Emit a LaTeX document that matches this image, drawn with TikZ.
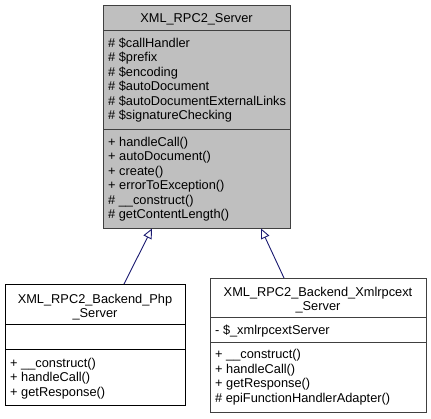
\documentclass[tikz,border=0pt]{standalone}
\usepackage{fontspec}
\setmainfont{Liberation Sans}
\usetikzlibrary{arrows.meta}
\definecolor{edgeblue}{HTML}{191970}
\definecolor{topfill}{HTML}{BFBFBF}
\definecolor{framegray}{HTML}{404040}
\begin{document}
\begin{tikzpicture}[x=1pt,y=-1pt,
  every node/.style={font=\fontsize{12.8}{15}\selectfont},
  classbox/.style={draw=framegray,line width=1pt,rectangle,inner sep=0pt,anchor=north west},
  divider/.style={draw=framegray,line width=1pt},
  member/.style={anchor=base west,inner sep=0pt},
  title/.style={anchor=base,inner sep=0pt},
  inherit/.style={draw=edgeblue,line width=0.9pt,-{Triangle[open,fill=white,length=10pt,width=9pt]}}]
\useasboundingbox (0,0) rectangle (431,419);
% top class
\node[classbox,fill=topfill,minimum width=187pt,minimum height=223pt] (server) at (103,5) {};
\draw[divider] (103,31) -- (290,31);
\draw[divider] (103,130) -- (290,130);
\node[title] (st) at (196.5,22.5) {XML\_RPC2\_Server};
\node[member] (s1) at (108,47.5) {\# \$callHandler};
\node[member] (s2) at (108,62) {\# \$prefix};
\node[member] (s3) at (108,76.5) {\# \$encoding};
\node[member] (s4) at (108,91) {\# \$autoDocument};
\node[member] (s5) at (108,105.5) {\# \$autoDocumentExternalLinks};
\node[member] (s6) at (108,120) {\# \$signatureChecking};
\node[member] (m1) at (108,146.5) {+ handleCall()};
\node[member] (m2) at (108,161) {+ autoDocument()};
\node[member] (m3) at (108,175.5) {+ create()};
\node[member] (m4) at (108,190) {+ errorToException()};
\node[member] (m5) at (108,204.5) {\# \_\_construct()};
\node[member] (m6) at (108,219) {\# getContentLength()};
% left class
\node[classbox,draw=black,fill=white,minimum width=180pt,minimum height=121pt] (php) at (5,284) {};
\draw[divider,draw=black] (5,325) -- (185,325);
\draw[divider,draw=black] (5,350) -- (185,350);
\node[title] (pt1) at (95,303.5) {XML\_RPC2\_Backend\_Php};
\node[title] (pt2) at (95,318) {\_Server};
\node[member] (p1) at (10,368) {+ \_\_construct()};
\node[member] (p2) at (10,382) {+ handleCall()};
\node[member] (p3) at (10,396) {+ getResponse()};
% right class
\node[classbox,fill=white,minimum width=216pt,minimum height=134pt] (xr) at (210,278) {};
\draw[divider] (210,318) -- (426,318);
\draw[divider] (210,343) -- (426,343);
\node[title] (xt1) at (318,296.5) {XML\_RPC2\_Backend\_Xmlrpcext};
\node[title] (xt2) at (318,311) {\_Server};
\node[member] (x0) at (215,334.5) {- \$\_xmlrpcextServer};
\node[member] (x1) at (215,359) {+ \_\_construct()};
\node[member] (x2) at (215,373.5) {+ handleCall()};
\node[member] (x3) at (215,388) {+ getResponse()};
\node[member] (x4) at (215,402.5) {\# epiFunctionHandlerAdapter()};
% connectors
\coordinate (phpTop) at (124,284);
\coordinate (srvL) at (152,228.5);
\coordinate (xrTop) at (284,278);
\coordinate (srvR) at (261,228.5);
\draw[inherit] (phpTop) -- (srvL);
\draw[inherit] (xrTop) -- (srvR);
\end{tikzpicture}
\end{document}
